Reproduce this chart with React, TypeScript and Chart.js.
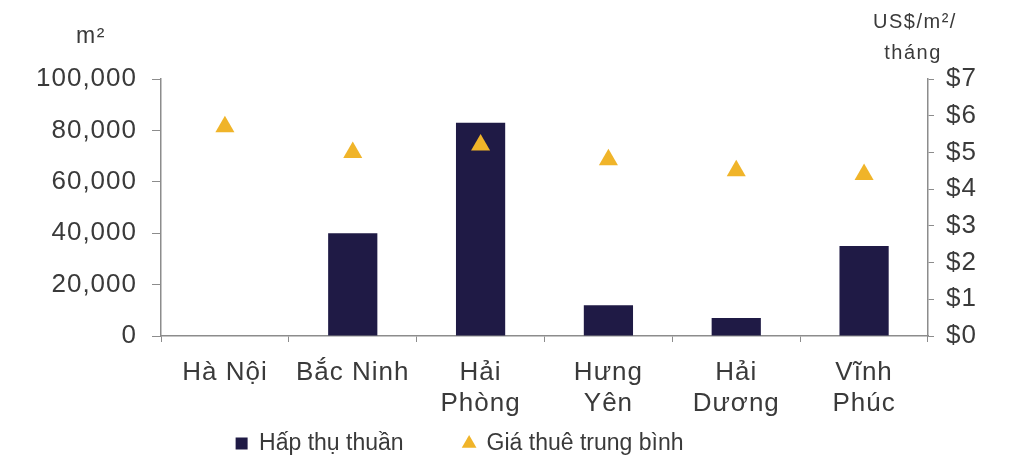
import React, { useEffect, useRef } from "react";
import { Chart, registerables } from "chart.js";

Chart.register(...registerables);

const categories: (string | string[])[] = [
  "Hà Nội",
  "Bắc Ninh",
  ["Hải", "Phòng"],
  ["Hưng", "Yên"],
  ["Hải", "Dương"],
  ["Vĩnh", "Phúc"],
];
const absorption = [0, 40000, 83000, 12000, 7000, 35000];
const rent = [5.7, 5.0, 5.2, 4.8, 4.5, 4.4];
const leftTickStep = 20000;
const rightTickStep = 1;
const leftTitle = "m²";
const rightTitle = ["US$/m²/", "tháng"];

const FONT = "'Liberation Sans', Arial, sans-serif";
const NAVY = "#1f1a45";
const GOLD = "#f0b429";
const AXIS = "#8c8c8c";
const TEXT = "#3a3a3a";
const SPACING = "1px";

function patchLegend(chart: any) {
  const lg = chart.legend;
  if (!lg || lg.__patched) return;
  lg.__patched = true;
  ["fit", "draw"].forEach((name) => {
    const orig = lg[name].bind(lg);
    lg[name] = function (...args: any[]) {
      const ctx = chart.ctx;
      const prev = ctx.letterSpacing;
      ctx.letterSpacing = "0px";
      try {
        return orig(...args);
      } finally {
        ctx.letterSpacing = prev;
      }
    };
  });
}

const spacingPlugin = {
  id: "spacing",
  beforeUpdate(chart: any) {
    chart.ctx.letterSpacing = SPACING;
    patchLegend(chart);
  },
  beforeDraw(chart: any) {
    chart.ctx.letterSpacing = SPACING;
  },
};

const titlesPlugin = {
  id: "axisTitles",
  afterDraw(chart: any) {
    const { ctx, chartArea } = chart;
    ctx.save();
    ctx.letterSpacing = "1.5px";
    ctx.fillStyle = TEXT;
    ctx.textAlign = "center";
    ctx.textBaseline = "alphabetic";
    ctx.font = `23px ${FONT}`;
    ctx.fillText(leftTitle, chartArea.left - 70, 43);
    ctx.font = `20px ${FONT}`;
    ctx.fillText(rightTitle[0], chartArea.right - 13, 28);
    ctx.fillText(rightTitle[1], chartArea.right - 15, 59);
    ctx.restore();
  },
};

export default function App() {
  const ref = useRef<HTMLCanvasElement | null>(null);
  useEffect(() => {
    if (!ref.current) return;
    const defaultLabels = (Chart.defaults as any).plugins.legend.labels.generateLabels;
    const chart = new Chart(ref.current, {
      type: "bar",
      data: {
        labels: categories,
        datasets: [
          {
            type: "line",
            label: "Giá thuê trung bình",
            data: rent,
            yAxisID: "y1",
            showLine: false,
            pointStyle: "triangle",
            pointRadius: 11,
            pointBackgroundColor: GOLD,
            pointBorderColor: GOLD,
            backgroundColor: GOLD,
            borderColor: GOLD,
            borderWidth: 0,
          } as any,
          {
            type: "bar",
            label: "Hấp thụ thuần",
            data: absorption,
            yAxisID: "y",
            backgroundColor: NAVY,
            borderColor: NAVY,
            borderWidth: 0,
            categoryPercentage: 1,
            barPercentage: 0.385,
            pointStyle: "rect",
          } as any,
        ],
      },
      options: {
        animation: false,
        responsive: false,
        layout: { padding: { top: 79, left: 0, right: 0, bottom: -6 } },
        plugins: {
          tooltip: { enabled: false },
          legend: {
            position: "bottom",
            reverse: true,
            labels: {
              usePointStyle: true,
              boxWidth: 12,
              boxHeight: 12,
              padding: 2,
              color: TEXT,
              font: { family: FONT, size: 23 },
              generateLabels(c: any) {
                const items = defaultLabels(c);
                items.forEach((it: any) => {
                  if (it.datasetIndex === 1) it.text = it.text + " ".repeat(9);
                  else it.text = it.text + " ".repeat(15);
                });
                return items;
              },
            },
          },
        },
        scales: {
          x: {
            offset: true,
            grid: {
              offset: true,
              drawOnChartArea: false,
              drawTicks: true,
              tickLength: 6,
              color: AXIS,
            },
            border: { display: true, color: AXIS, width: 1.5 },
            ticks: {
              color: TEXT,
              font: { family: FONT, size: 26, lineHeight: 1.2 },
              maxRotation: 0,
              autoSkip: false,
              padding: 15,
            },
            afterFit(scale: any) {
              scale.height = 94;
            },
          },
          y: {
            position: "left",
            min: 0,
            max: 100000,
            ticks: {
              stepSize: leftTickStep,
              autoSkip: false,
              color: TEXT,
              font: { family: FONT, size: 26 },
              padding: 15,
              callback: (v: any) => Number(v).toLocaleString("en-US"),
            },
            grid: { drawOnChartArea: false, tickLength: 9, color: AXIS },
            border: { display: true, color: AXIS, width: 1.5 },
            afterFit(scale: any) {
              scale.width = 161;
            },
          },
          y1: {
            position: "right",
            min: 0,
            max: 7,
            ticks: {
              stepSize: rightTickStep,
              autoSkip: false,
              color: TEXT,
              font: { family: FONT, size: 26 },
              padding: 12,
              callback: (v: any) => "$" + v,
            },
            grid: { drawOnChartArea: false, tickLength: 6, color: AXIS },
            border: { display: true, color: AXIS, width: 1.5 },
            afterFit(scale: any) {
              scale.width = 87;
            },
          },
        },
      },
      plugins: [spacingPlugin, titlesPlugin],
    });
    return () => chart.destroy();
  }, []);
  return (
    <div style={{ position: "fixed", left: 0, top: 0, width: 1015, height: 459, background: "#fff" }}>
      <canvas ref={ref} width={1015} height={459} style={{ display: "block" }} />
    </div>
  );
}
